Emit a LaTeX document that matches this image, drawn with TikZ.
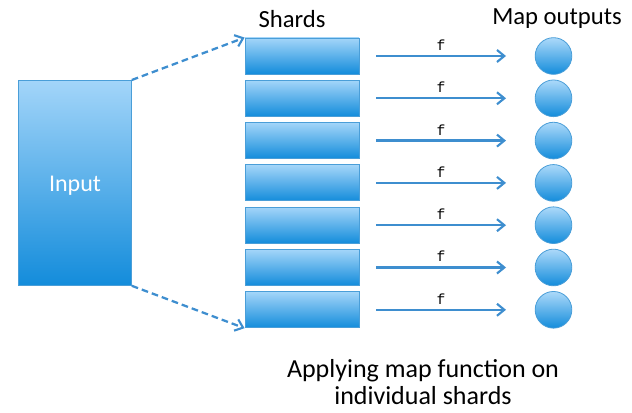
\documentclass[tikz,border=0pt]{standalone}
\usepackage{fontspec}
\setmainfont{Carlito}
\newfontfamily\funcfont{Liberation Mono}
\usetikzlibrary{arrows.meta}
\definecolor{boxtop}{HTML}{A3D5F9}
\definecolor{boxbot}{HTML}{138CDB}
\definecolor{boxedge}{HTML}{4A9ED8}
\definecolor{flow}{HTML}{3E8ECF}
\tikzset{
  block/.style={draw=boxedge, line width=0.6pt, top color=boxtop, bottom color=boxbot, inner sep=0pt},
  shard/.style={block, minimum width=85.5pt, minimum height=27pt},
  outnode/.style={circle, draw=boxedge, line width=0.6pt, top color=boxtop!90, bottom color=boxbot, minimum size=27.5pt, inner sep=0pt},
  tip/.style={-{Straight Barb[length=5.5pt,width=9pt,line width=1.6pt]}},
  maparrow/.style={draw=flow, line width=1.7pt, tip},
  split/.style={draw=flow, line width=1.7pt, dash pattern=on 5pt off 3pt, tip},
  heading/.style={font=\fontsize{18.5}{22}\selectfont, text=black},
  flabel/.style={font=\funcfont\fontsize{11}{13}\selectfont, text=black}
}
\begin{document}
\begin{tikzpicture}[x=0.75pt, y=-0.75pt]
  \useasboundingbox (0,0) rectangle (632,413);
  % input block
  \node[block, minimum width=84.75pt, minimum height=153.75pt, anchor=north west] (in) at (18,80) {};
  \node[text=white, font=\fontsize{18}{21}\selectfont] (inlabel) at (75,186) {Input};
  % shards, map arrows and outputs
  \foreach \i in {1,...,7} {
    \pgfmathsetmacro{\yc}{56+42.3*(\i-1)}
    \node[shard] (s\i) at (302,\yc) {};
    \node[outnode] (o\i) at (553.5,\yc) {};
    \coordinate (a\i) at (376,\yc);
    \coordinate (b\i) at (506,\yc);
    \draw[maparrow] (a\i) -- node[flabel, above=0pt] {f} (b\i);
  }
  % splitting the input into shards
  \draw[split] (in.north east) -- (s1.north west);
  \draw[split] (in.south east) -- (s7.south west);
  % headings
  \node[heading] (hs) at (292,19) {Shards};
  \node[heading] (ho) at (557,19) {Map outputs};
  \node[heading, align=center, inner sep=0pt, font=\fontsize{19.5}{20.5}\selectfont] (cap) at (423,382) {Applying map function on\\individual shards};
\end{tikzpicture}
\end{document}
